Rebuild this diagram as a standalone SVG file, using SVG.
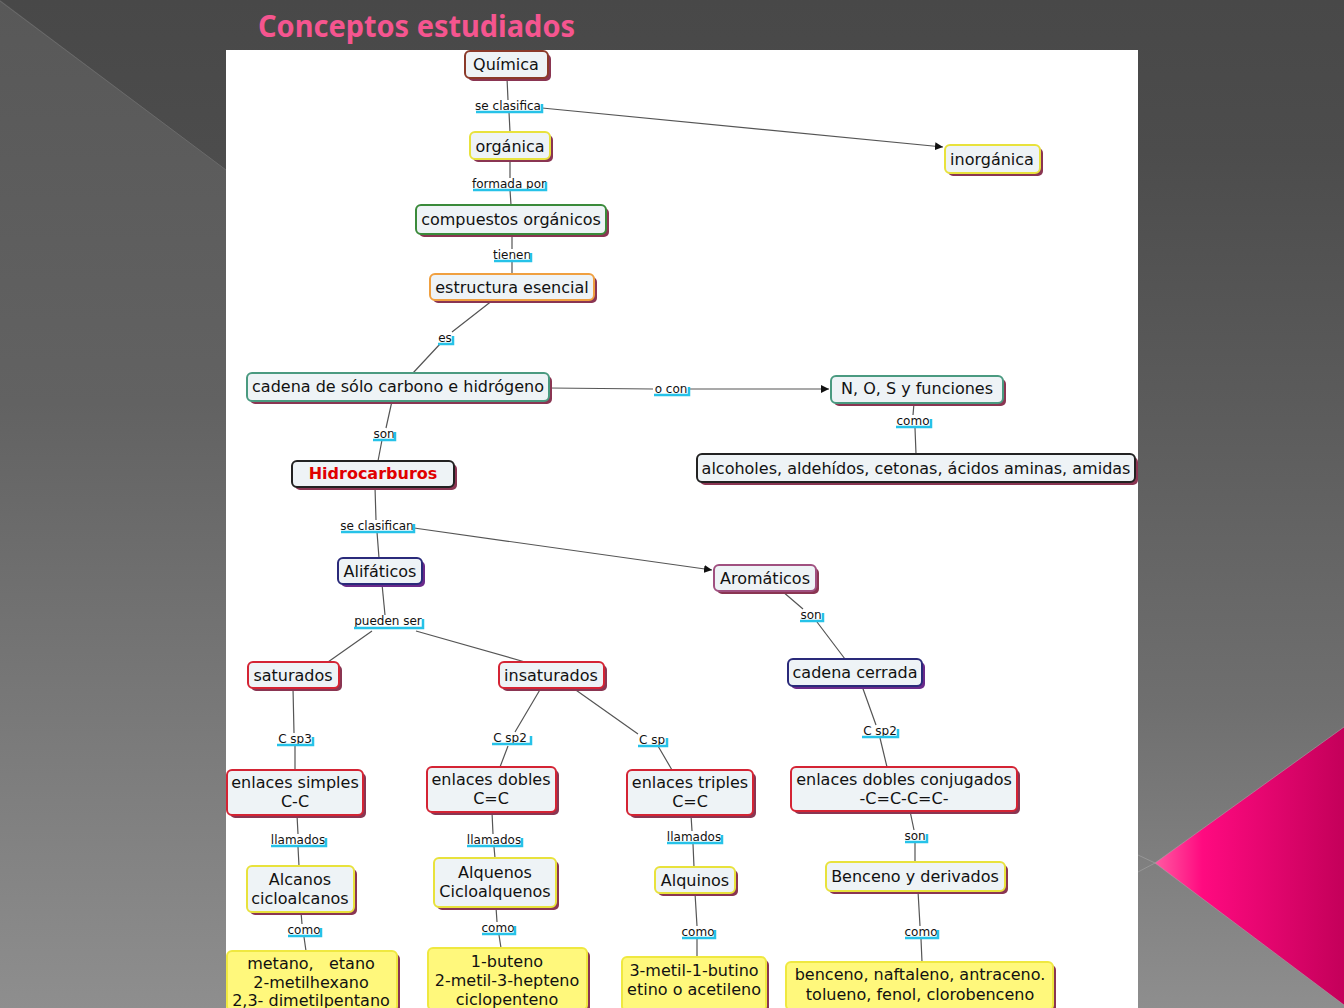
<svg xmlns="http://www.w3.org/2000/svg" width="1344" height="1008" viewBox="0 0 1344 1008">
<defs>
<linearGradient id="bg" x1="0" y1="0" x2="0" y2="1">
<stop offset="0" stop-color="#484848"/>
<stop offset="0.15" stop-color="#4c4c4c"/>
<stop offset="0.4" stop-color="#5b5b5b"/>
<stop offset="0.7" stop-color="#6f6f6f"/>
<stop offset="1" stop-color="#8e8e8e"/>
</linearGradient>
<linearGradient id="bgl" x1="0" y1="0" x2="0" y2="1">
<stop offset="0" stop-color="#585858"/>
<stop offset="0.4" stop-color="#626262"/>
<stop offset="1" stop-color="#8e8e8e"/>
</linearGradient>
<linearGradient id="pink" x1="1155" y1="0" x2="1344" y2="0" gradientUnits="userSpaceOnUse">
<stop offset="0" stop-color="#ff5aa2"/>
<stop offset="0.25" stop-color="#ff0a80"/>
<stop offset="1" stop-color="#c4005a"/>
</linearGradient>
<marker id="arr" viewBox="0 0 10 10" refX="10" refY="5" markerWidth="8" markerHeight="8" markerUnits="userSpaceOnUse" orient="auto">
<path d="M0,0 L10,5 L0,10 z" fill="#111"/>
</marker>
<style>
.t{font-family:"DejaVu Sans",Verdana,sans-serif;font-size:16px;fill:#111;text-anchor:middle}
.l{font-family:"DejaVu Sans",Verdana,sans-serif;font-size:12px;fill:#111;text-anchor:middle}
.ul{fill:none;stroke:#26c2e8;stroke-width:2.5}
.c{fill:none;stroke:#555;stroke-width:1.2}
.sh{fill:#8a3552}
.n{fill:#eef3f6;stroke-width:2}
.y{fill:#fff87c;stroke:#efe840;stroke-width:2}
.br{stroke:#8b3a2a}.ye{stroke:#e8e23c}.gr{stroke:#3a8a3a}.or{stroke:#f0a040}.te{stroke:#4a9a80}.bk{stroke:#222}.nv{stroke:#2a2a7a}.mv{stroke:#a05080}.rd{stroke:#d42434}
</style>
</defs>
<rect x="0" y="0" width="1344" height="1008" fill="url(#bg)"/>
<polygon points="0,0 226,170 226,1008 0,1008" fill="url(#bgl)"/>
<line x1="0" y1="1" x2="226" y2="170" stroke="#6a6a6a" stroke-width="1"/>
<polygon points="1155,863 1344,727 1344,1005" fill="url(#pink)"/>
<path d="M1138,855 L1155,863 L1138,872 M1155,863 L1344,727 M1155,863 L1344,1005" fill="none" stroke="#a8a8a8" stroke-width="0.8" opacity="0.7"/>
<rect x="226" y="50" width="912" height="958" fill="#ffffff"/>
<text x="258" y="37" font-family="'Noto Sans',sans-serif" font-weight="bold" font-size="30" fill="#f5558f" textLength="317" lengthAdjust="spacingAndGlyphs">Conceptos estudiados</text>

<g id="connectors">
<path class="c" d="M507,78 L508,100 M509,112 L510,132"/>
<path class="c" d="M542,108 L943,147" marker-end="url(#arr)"/>
<path class="c" d="M510,159 L510,178 M510,190 L511,205"/>
<path class="c" d="M512,234 L512,249 M512,261 L512,274"/>
<path class="c" d="M493,300 L452,332 M440,344 L413,373"/>
<path class="c" d="M549,388 L653,389"/>
<path class="c" d="M690,389 L829,389" marker-end="url(#arr)"/>
<path class="c" d="M914,403 L913,415 M915,428 L916,454"/>
<path class="c" d="M392,401 L386,428 M382,440 L378,461"/>
<path class="c" d="M375,487 L376,520 M377,532 L379,558"/>
<path class="c" d="M414,528 L712,570" marker-end="url(#arr)"/>
<path class="c" d="M382,584 L385,615"/>
<path class="c" d="M372,631 L328,662 M416,631 L525,662"/>
<path class="c" d="M782,591 L803,609 M817,622 L845,659"/>
<path class="c" d="M293,688 L294,733 M295,746 L295,770"/>
<path class="c" d="M541,688 L515,732 M508,746 L500,767"/>
<path class="c" d="M573,688 L638,734 M658,746 L672,770"/>
<path class="c" d="M862,686 L876,725 M880,738 L887,767"/>
<path class="c" d="M297,815 L298,834 M298,847 L299,866"/>
<path class="c" d="M492,812 L493,834 M494,847 L495,858"/>
<path class="c" d="M691,815 L692,831 M693,844 L694,867"/>
<path class="c" d="M910,811 L914,830 M915,842 L915,862"/>
<path class="c" d="M301,912 L302,924 M304,937 L306,951"/>
<path class="c" d="M496,907 L497,922 M499,935 L501,948"/>
<path class="c" d="M695,893 L697,926 M697,938 L697,957"/>
<path class="c" d="M918,891 L920,926 M921,939 L922,962"/>
</g>

<g id="labels">
<text class="l" x="508" y="110">se clasifica</text><path class="ul" d="M476,112 H542 V104"/>
<text class="l" x="509" y="188">formada por</text><path class="ul" d="M473,190 H546 V182"/>
<text class="l" x="512" y="259">tienen</text><path class="ul" d="M494,261 H531 V253"/>
<text class="l" x="445" y="342">es</text><path class="ul" d="M438,344 H453 V336"/>
<text class="l" x="671" y="393">o con</text><path class="ul" d="M654,395 H689 V387"/>
<text class="l" x="913" y="425">como</text><path class="ul" d="M896,427 H931 V419"/>
<text class="l" x="384" y="438">son</text><path class="ul" d="M373,440 H395 V432"/>
<text class="l" x="377" y="530">se clasifican</text><path class="ul" d="M341,532 H414 V524"/>
<text class="l" x="388" y="625">pueden ser</text><path class="ul" d="M354,628 H423 V619"/>
<text class="l" x="811" y="619">son</text><path class="ul" d="M800,621 H823 V613"/>
<text class="l" x="295" y="743">C sp3</text><path class="ul" d="M277,745 H313 V737"/>
<text class="l" x="510" y="742">C sp2</text><path class="ul" d="M492,744 H531 V736"/>
<text class="l" x="652" y="744">C sp</text><path class="ul" d="M638,746 H667 V738"/>
<text class="l" x="880" y="735">C sp2</text><path class="ul" d="M862,737 H898 V729"/>
<text class="l" x="298" y="844">llamados</text><path class="ul" d="M271,846 H326 V838"/>
<text class="l" x="494" y="844">llamados</text><path class="ul" d="M467,846 H522 V838"/>
<text class="l" x="694" y="841">llamados</text><path class="ul" d="M667,843 H722 V835"/>
<text class="l" x="915" y="840">son</text><path class="ul" d="M905,842 H927 V834"/>
<text class="l" x="304" y="934">como</text><path class="ul" d="M288,936 H321 V928"/>
<text class="l" x="498" y="932">como</text><path class="ul" d="M482,934 H515 V926"/>
<text class="l" x="698" y="936">como</text><path class="ul" d="M682,938 H715 V930"/>
<text class="l" x="921" y="936">como</text><path class="ul" d="M905,938 H938 V930"/>
</g>

<g id="quimica"><rect class="sh" x="468" y="54" width="83" height="27" rx="5"/><rect class="n br" x="465" y="51" width="83" height="27" rx="5"/><text class="t" x="506" y="70">Química</text></g>
<g id="organica"><rect class="sh" x="473" y="135" width="80" height="27" rx="5"/><rect class="n ye" x="470" y="132" width="80" height="27" rx="5"/><text class="t" x="510" y="152">orgánica</text></g>
<g id="inorganica"><rect class="sh" x="948" y="148" width="95" height="28" rx="5"/><rect class="n ye" x="945" y="145" width="95" height="28" rx="5"/><text class="t" x="992" y="165">inorgánica</text></g>
<g id="compuestos"><rect class="sh" x="419" y="208" width="190" height="29" rx="5"/><rect class="n gr" x="416" y="205" width="190" height="29" rx="5"/><text class="t" x="511" y="225">compuestos orgánicos</text></g>
<g id="estructura"><rect class="sh" x="433" y="277" width="164" height="26" rx="5"/><rect class="n or" x="430" y="274" width="164" height="26" rx="5"/><text class="t" x="512" y="293">estructura esencial</text></g>
<g id="cadena"><rect class="sh" x="250" y="376" width="302" height="28" rx="5"/><rect class="n te" x="247" y="373" width="302" height="28" rx="5"/><text class="t" x="398" y="392">cadena de sólo carbono e hidrógeno</text></g>
<g id="nos"><rect class="sh" x="834" y="379" width="172" height="27" rx="5"/><rect class="n te" x="831" y="376" width="172" height="27" rx="5"/><text class="t" x="917" y="394">N, O, S y funciones</text></g>
<g id="alcoholes"><rect class="sh" x="700" y="457" width="438" height="28" rx="5"/><rect class="n bk" x="697" y="454" width="438" height="28" rx="5"/><text class="t" x="916" y="474">alcoholes, aldehídos, cetonas, ácidos aminas, amidas</text></g>
<g id="hidrocarburos"><rect class="sh" x="295" y="464" width="162" height="26" rx="5"/><rect class="n bk" x="292" y="461" width="162" height="26" rx="5"/><text class="t" x="373" y="479" font-weight="bold" style="fill:#e00000">Hidrocarburos</text></g>
<g id="alifaticos"><rect class="sh" x="341" y="561" width="84" height="26" rx="5" style="fill:#6a2a8a"/><rect class="n nv" x="338" y="558" width="84" height="26" rx="5"/><text class="t" x="380" y="577">Alifáticos</text></g>
<g id="aromaticos"><rect class="sh" x="717" y="568" width="102" height="26" rx="5"/><rect class="n mv" x="714" y="565" width="102" height="26" rx="5"/><text class="t" x="765" y="584">Aromáticos</text></g>
<g id="saturados"><rect class="sh" x="251" y="665" width="91" height="26" rx="5"/><rect class="n rd" x="248" y="662" width="91" height="26" rx="5"/><text class="t" x="293" y="681">saturados</text></g>
<g id="insaturados"><rect class="sh" x="502" y="665" width="105" height="26" rx="5"/><rect class="n rd" x="499" y="662" width="105" height="26" rx="5"/><text class="t" x="551" y="681">insaturados</text></g>
<g id="cadenacerrada"><rect class="sh" x="791" y="662" width="134" height="27" rx="5" style="fill:#6a2a8a"/><rect class="n nv" x="788" y="659" width="134" height="27" rx="5"/><text class="t" x="855" y="678">cadena cerrada</text></g>
<g id="simples"><rect class="sh" x="230" y="773" width="136" height="45" rx="5"/><rect class="n rd" x="227" y="770" width="136" height="45" rx="5"/><text class="t" x="295" y="788">enlaces simples</text><text class="t" x="295" y="807">C-C</text></g>
<g id="dobles"><rect class="sh" x="430" y="770" width="129" height="45" rx="5"/><rect class="n rd" x="427" y="767" width="129" height="45" rx="5"/><text class="t" x="491" y="785">enlaces dobles</text><text class="t" x="491" y="804">C=C</text></g>
<g id="triples"><rect class="sh" x="630" y="773" width="126" height="45" rx="5"/><rect class="n rd" x="627" y="770" width="126" height="45" rx="5"/><text class="t" x="690" y="788">enlaces triples</text><text class="t" x="690" y="807">C=C</text></g>
<g id="conjugados"><rect class="sh" x="794" y="770" width="226" height="44" rx="5"/><rect class="n rd" x="791" y="767" width="226" height="44" rx="5"/><text class="t" x="904" y="785">enlaces dobles conjugados</text><text class="t" x="904" y="804">-C=C-C=C-</text></g>
<g id="alcanos"><rect class="sh" x="250" y="869" width="107" height="46" rx="5"/><rect class="n ye" x="247" y="866" width="107" height="46" rx="5"/><text class="t" x="300" y="885">Alcanos</text><text class="t" x="300" y="904">cicloalcanos</text></g>
<g id="alquenos"><rect class="sh" x="437" y="861" width="122" height="49" rx="5"/><rect class="n ye" x="434" y="858" width="122" height="49" rx="5"/><text class="t" x="495" y="878">Alquenos</text><text class="t" x="495" y="897">Cicloalquenos</text></g>
<g id="alquinos"><rect class="sh" x="658" y="870" width="80" height="26" rx="5"/><rect class="n ye" x="655" y="867" width="80" height="26" rx="5"/><text class="t" x="695" y="886">Alquinos</text></g>
<g id="benceno"><rect class="sh" x="829" y="865" width="179" height="29" rx="5"/><rect class="n ye" x="826" y="862" width="179" height="29" rx="5"/><text class="t" x="915" y="882">Benceno y derivados</text></g>
<g id="metano"><rect class="sh" x="230" y="954" width="170" height="60" rx="5"/><rect class="y" x="227" y="951" width="170" height="60" rx="5"/><text class="t" x="311" y="969" xml:space="preserve">metano,   etano</text><text class="t" x="311" y="988">2-metilhexano</text><text class="t" x="311" y="1006">2,3- dimetilpentano</text></g>
<g id="buteno"><rect class="sh" x="431" y="951" width="159" height="62" rx="5"/><rect class="y" x="428" y="948" width="159" height="62" rx="5"/><text class="t" x="507" y="967">1-buteno</text><text class="t" x="507" y="986">2-metil-3-hepteno</text><text class="t" x="507" y="1005">ciclopenteno</text></g>
<g id="butino"><rect class="sh" x="625" y="960" width="144" height="54" rx="5"/><rect class="y" x="622" y="957" width="144" height="54" rx="5"/><text class="t" x="694" y="976">3-metil-1-butino</text><text class="t" x="694" y="995">etino o acetileno</text></g>
<g id="bencenos"><rect class="sh" x="789" y="965" width="267" height="48" rx="5"/><rect class="y" x="786" y="962" width="267" height="48" rx="5"/><text class="t" x="920" y="980">benceno, naftaleno, antraceno.</text><text class="t" x="920" y="1000">tolueno, fenol, clorobenceno</text></g>
</svg>
